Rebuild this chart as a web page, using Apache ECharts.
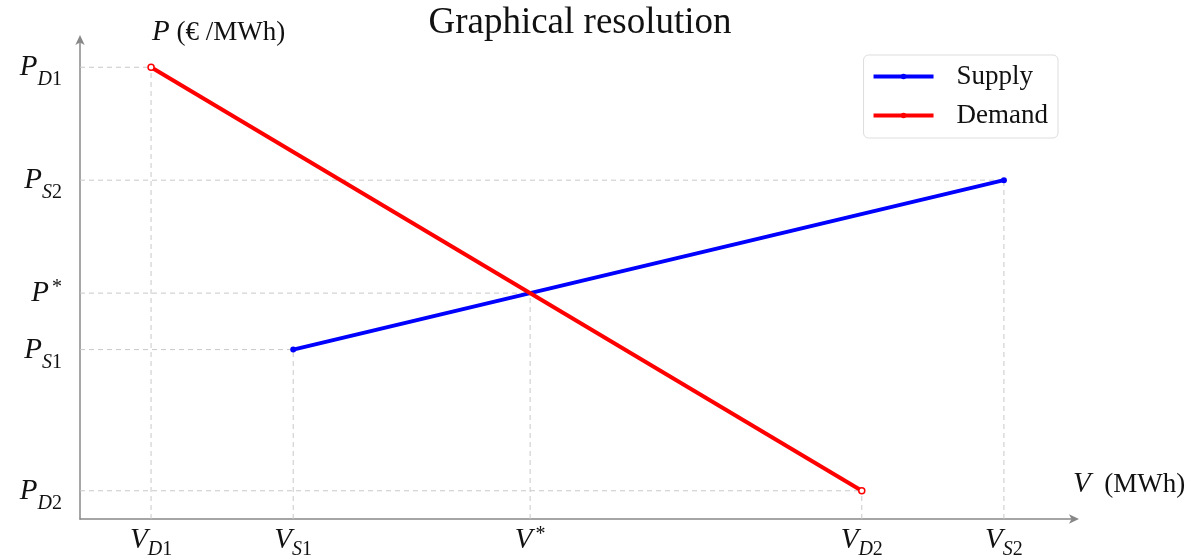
<!DOCTYPE html>
<html><head><meta charset="utf-8">
<script src="https://cdn.jsdelivr.net/npm/echarts@6/dist/echarts.min.js"></script>
<style>html,body{margin:0;padding:0;background:#fff}#c{width:1195px;height:560px}</style>
</head><body><div id="c"></div>
<script>
// Data
const supplyPoints = [[2, 6], [7, 12]];          // (V_S1,P_S1) -> (V_S2,P_S2)
const demandPoints = [[1, 16], [6, 1]];          // (V_D1,P_D1) -> (V_D2,P_D2)
const eqV = 11 / 3, eqP = 8;                      // equilibrium (V*, P*)
const xTickValues = [1, 2, eqV, 6, 7];
const xTickLabels = [['V','D','1'], ['V','S','1'], ['V','*',''], ['V','D','2'], ['V','S','2']];
const yTickValues = [1, 6, 8, 12, 16];
const yTickLabels = [['P','D','2'], ['P','S','1'], ['P','*',''], ['P','S','2'], ['P','D','1']];
const guidePoints = [[1, 16], [2, 6], [eqV, eqP], [6, 1], [7, 12]];
const xMin = 0.5, xMax = 7.5, yMin = 0, yMax = 17;

const SERIF = '"Liberation Serif","DejaVu Serif",serif';
function fmtLabel(arr) {
  if (arr[1] === '*') return '{m|' + arr[0] + '}{st|*}';
  return '{m|' + arr[0] + '}{si|' + arr[1] + '}{sn|' + arr[2] + '}';
}
function lookup(vals, labels, v) {
  for (let i = 0; i < vals.length; i++) if (Math.abs(vals[i] - v) < 1e-6) return fmtLabel(labels[i]);
  return '';
}
function makeRich(sub) {
  return {
    m: {fontFamily: SERIF, fontStyle: 'italic', fontSize: 29, color: '#111', lineHeight: 30, verticalAlign: 'bottom'},
    si: {fontFamily: SERIF, fontStyle: 'italic', fontSize: 20, color: '#111', lineHeight: 30, verticalAlign: 'bottom', padding: [0, 0, -sub, 0]},
    sn: {fontFamily: SERIF, fontSize: 20, color: '#111', lineHeight: 30, verticalAlign: 'bottom', padding: [0, 0, -sub, 0]},
    st: {fontFamily: SERIF, fontSize: 20, color: '#111', lineHeight: 30, verticalAlign: 'top', padding: [0, 0, 0, 3]}
  };
}

const guideSeries = [];
guidePoints.forEach(p => {
  guideSeries.push({type: 'line', silent: true, symbol: 'none', z: 1,
    lineStyle: {color: '#c8c8c8', width: 1, type: [5, 4]},
    data: [[xMin, p[1]], [p[0], p[1]]]});
  guideSeries.push({type: 'line', silent: true, symbol: 'none', z: 1,
    lineStyle: {color: '#c8c8c8', width: 1, type: [5, 4]},
    data: [[p[0], yMin], [p[0], p[1]]]});
});

const chart = echarts.init(document.getElementById('c'));
chart.setOption({
  animation: false,
  backgroundColor: '#fff',
  title: {text: 'Graphical resolution', left: 575, textAlign: 'center', top: 0,
    textStyle: {fontFamily: SERIF, fontWeight: 'normal', fontSize: 37, color: '#111'}},
  legend: {
    right: 137, top: 55, orient: 'vertical', itemWidth: 60, itemHeight: 7, itemGap: 12,
    padding: [8, 10, 9, 8], borderColor: '#ddd', borderWidth: 1, borderRadius: 5,
    textStyle: {fontFamily: SERIF, fontSize: 27, color: '#111', padding: [0, 0, 0, 18]},
    data: [
      {name: 'Supply', itemStyle: {color: '#0000ff', borderWidth: 0}, lineStyle: {width: 4}},
      {name: 'Demand', itemStyle: {color: '#ff0000', borderWidth: 0}, lineStyle: {width: 4}}
    ]
  },
  grid: {left: 80, right: 120, top: 39, bottom: 41, containLabel: false, outerBoundsMode: 'none'},
  xAxis: {
    type: 'value', min: xMin, max: xMax,
    name: '{m|V}{t|  (MWh)}', nameLocation: 'end', nameGap: -2,
    nameTextStyle: {align: 'left', verticalAlign: 'bottom', padding: [0, 0, 20, 0],
      rich: {m: {fontFamily: SERIF, fontStyle: 'italic', fontSize: 29, color: '#111'}, t: {fontFamily: SERIF, fontSize: 27, color: '#111'}}},
    axisLine: {show: true, onZero: false, lineStyle: {color: '#888', width: 1.5}, symbol: ['none', 'arrow'], symbolSize: [7, 10], symbolOffset: [0, 4]},
    axisTick: {show: false},
    splitLine: {show: false},
    axisLabel: {customValues: xTickValues, margin: 6, formatter: v => lookup(xTickValues, xTickLabels, v), rich: makeRich(5)}
  },
  yAxis: {
    type: 'value', min: yMin, max: yMax,
    name: '{m|P}{t| (€ /MWh)}', nameLocation: 'end', nameGap: -8,
    nameTextStyle: {align: 'left', verticalAlign: 'bottom', padding: [0, 0, 0, 72],
      rich: {m: {fontFamily: SERIF, fontStyle: 'italic', fontSize: 29, color: '#111'}, t: {fontFamily: SERIF, fontSize: 27, color: '#111'}}},
    axisLine: {show: true, onZero: false, lineStyle: {color: '#888', width: 1.5}, symbol: ['none', 'arrow'], symbolSize: [7, 10], symbolOffset: [0, 4]},
    axisTick: {show: false},
    splitLine: {show: false},
    axisLabel: {customValues: yTickValues, margin: 18, formatter: v => lookup(yTickValues, yTickLabels, v), rich: makeRich(8)}
  },
  series: guideSeries.concat([
    {name: 'Supply', type: 'line', data: supplyPoints, z: 5, symbol: 'circle', symbolSize: 6,
      lineStyle: {color: '#0000ff', width: 4}, itemStyle: {color: '#0000ff'}},
    {name: 'Demand', type: 'line', data: demandPoints, z: 5, symbol: 'circle', symbolSize: 6,
      lineStyle: {color: '#ff0000', width: 4}, itemStyle: {color: '#fff', borderColor: '#ff0000', borderWidth: 1.5}}
  ])
});
</script></body></html>
